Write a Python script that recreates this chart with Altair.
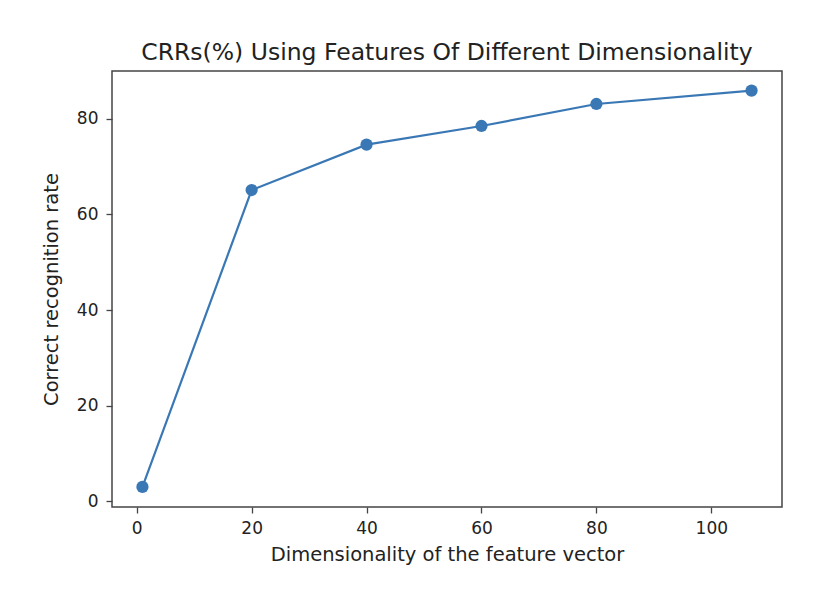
import altair as alt
import pandas as pd

dims = [1, 20, 40, 60, 80, 107]
crr = [3.0, 65.1, 74.6, 78.5, 83.1, 85.9]
x_ticks = [0, 20, 40, 60, 80, 100]
y_ticks = [0, 20, 40, 60, 80]

df = pd.DataFrame({"dim": dims, "crr": crr})
color = "#3a78b5"
font = "DejaVu Sans"
txt = "#222222"

x = alt.X("dim:Q", title="Dimensionality of the feature vector",
          scale=alt.Scale(domain=[-4.3, 112.3], nice=False, zero=False),
          axis=alt.Axis(values=x_ticks, grid=False, tickSize=6, tickColor="#444",
                        tickWidth=1.3, domain=False, labelFontSize=17, labelColor=txt,
                        titleFontSize=19.5, titleColor=txt, titleFontWeight="normal",
                        labelFont=font, titleFont=font, labelPadding=7, titlePadding=9))
y = alt.Y("crr:Q", title="Correct recognition rate",
          scale=alt.Scale(domain=[-1.2, 90.0], nice=False, zero=False),
          axis=alt.Axis(values=y_ticks, grid=False, tickSize=6, tickColor="#444",
                        tickWidth=1.3, domain=False, labelFontSize=17, labelColor=txt,
                        titleFontSize=19.5, titleColor=txt, titleFontWeight="normal",
                        labelFont=font, titleFont=font, labelPadding=8, titlePadding=15))

line = alt.Chart(df).mark_line(color=color, strokeWidth=2.2).encode(x=x, y=y)
pts = alt.Chart(df).mark_point(color=color, filled=True, size=150, opacity=1).encode(x=x, y=y)

chart = (line + pts).properties(
    width=670, height=436,
    title=alt.TitleParams("CRRs(%) Using Features Of Different Dimensionality",
                          fontSize=23.5, font=font, fontWeight="normal", color=txt, offset=7),
    autosize=alt.AutoSizeParams(type="none"),
    padding={"left": 112, "top": 71, "right": 48, "bottom": 83},
    background="white",
).configure_view(stroke="#444444", strokeWidth=1.5)

chart.save("out.html", embed_options={"renderer": "svg", "actions": False})
